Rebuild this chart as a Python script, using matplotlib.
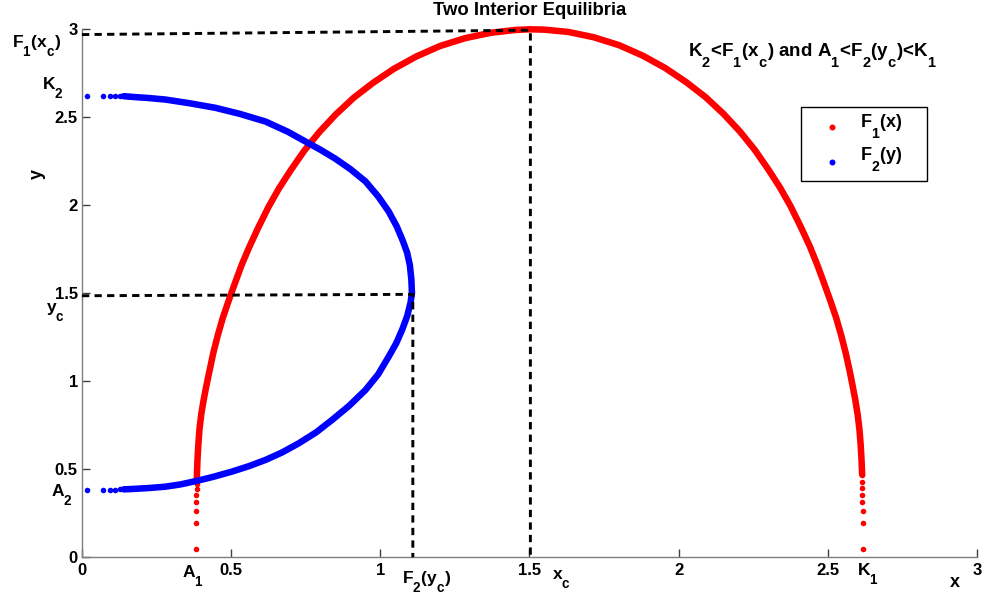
import matplotlib
matplotlib.use("Agg")
import matplotlib.pyplot as plt
from matplotlib.patches import Rectangle

plt.rcParams['font.family'] = ['Liberation Sans', 'DejaVu Sans']
plt.rcParams['font.weight'] = 'bold'
plt.rcParams['mathtext.fontset'] = 'custom'
plt.rcParams['mathtext.rm'] = 'Liberation Sans:bold'
plt.rcParams['mathtext.it'] = 'Liberation Sans:bold'
plt.rcParams['mathtext.bf'] = 'Liberation Sans:bold'
# MATLAB-like subscripts: lower and a little larger
try:
    import matplotlib._mathtext as _mt
    _mt.FontConstantsBase.sub1 = 1.1
    _mt.FontConstantsBase.subdrop = 1.1
    _mt.SHRINK_FACTOR = 0.78
except Exception:
    pass

# ---------------- data ----------------
# F1(x): sparse sample dots near both ends
red_left_dots_x = [0.382, 0.382, 0.383, 0.383, 0.383, 0.384, 0.384]
red_left_dots_y = [0.047, 0.197, 0.264, 0.313, 0.353, 0.387, 0.419]
red_right_dots_x = [2.617, 2.617, 2.617, 2.616, 2.616, 2.616, 2.615, 2.615]
red_right_dots_y = [0.047, 0.197, 0.264, 0.313, 0.353, 0.391, 0.429, 0.467]
# F1(x): dense part of the curve
red_x = [0.385, 0.387, 0.390, 0.394, 0.400, 0.408, 0.417, 0.427, 0.440, 0.455,
         0.472, 0.490, 0.510, 0.535, 0.560, 0.590, 0.625, 0.660, 0.700, 0.745,
         0.795, 0.850, 0.910, 0.975, 1.045, 1.120, 1.200, 1.285, 1.370, 1.450,
         1.500,
         1.550, 1.630, 1.715, 1.800, 1.880, 1.955, 2.025, 2.090, 2.150, 2.205,
         2.255, 2.300, 2.340, 2.375, 2.410, 2.440, 2.465, 2.490, 2.510, 2.528,
         2.545, 2.560, 2.573, 2.583, 2.592, 2.600, 2.606, 2.610, 2.613, 2.615]
red_y = [0.450, 0.550, 0.640, 0.730, 0.815, 0.895, 0.975, 1.055, 1.160, 1.260,
         1.360, 1.450, 1.545, 1.660, 1.760, 1.870, 1.990, 2.095, 2.200, 2.310,
         2.415, 2.515, 2.610, 2.695, 2.775, 2.845, 2.905, 2.950, 2.980, 2.996,
         3.000,
         2.998, 2.985, 2.955, 2.910, 2.850, 2.780, 2.700, 2.615, 2.520, 2.420,
         2.315, 2.205, 2.100, 1.995, 1.875, 1.765, 1.660, 1.545, 1.450, 1.360,
         1.260, 1.160, 1.060, 0.975, 0.895, 0.810, 0.725, 0.640, 0.550, 0.470]

# F2(y): sparse sample dots near both ends
blue_dots_x = [0.016, 0.069, 0.095, 0.112, 0.128]
blue_bottom_dots_y = [0.385, 0.385, 0.385, 0.385, 0.386]
blue_top_dots_y = [2.622, 2.622, 2.622, 2.622, 2.621]
# F2(y): dense part of the curve (bottom branch -> nose -> top branch)
blue_x = [0.140, 0.168, 0.220, 0.279, 0.330, 0.382, 0.440, 0.503, 0.560, 0.615,
          0.670, 0.726, 0.785, 0.838, 0.895, 0.950, 0.993, 1.028, 1.053, 1.073,
          1.090, 1.101, 1.106,
          1.104, 1.099, 1.090, 1.075, 1.055, 1.028, 0.993, 0.950, 0.900, 0.849,
          0.800, 0.760, 0.690, 0.615, 0.530, 0.447, 0.360, 0.279, 0.220, 0.168,
          0.140]
blue_y = [0.386, 0.388, 0.393, 0.401, 0.414, 0.433, 0.457, 0.487, 0.518, 0.553,
          0.595, 0.647, 0.710, 0.780, 0.860, 0.950, 1.040, 1.140, 1.215, 1.292,
          1.370, 1.444, 1.500,
          1.580, 1.660, 1.730, 1.800, 1.880, 1.965, 2.050, 2.136, 2.205, 2.265,
          2.315, 2.352, 2.418, 2.476, 2.519, 2.554, 2.580, 2.601, 2.610, 2.616,
          2.620]

# construction lines (dashed)
xc_line_x = [0.0, 1.503, 1.503]
xc_line_y = [2.970, 2.995, 0.0]
yc_line_x = [0.0, 1.109, 1.109]
yc_line_y = [1.486, 1.494, 0.0]

xticks = [0, 0.5, 1, 1.5, 2, 2.5, 3]
xticklabels = ['0', '0.5', '1', '1.5', '2', '2.5', '3']
yticks = [0, 0.5, 1, 1.5, 2, 2.5, 3]
yticklabels = ['0', '0.5', '1', '1.5', '2', '2.5', '3']

title = 'Two Interior Equilibria'
condition = r'K$_2$<F$_1$(x$_c$) and A$_1$<F$_2$(y$_c$)<K$_1$'
legend_labels = [r'F$_1$(x)', r'F$_2$(y)']

# ---------------- figure ----------------
fig = plt.figure(figsize=(9.84, 5.98), dpi=100)
ax = fig.add_axes([0.0833, 0.0681, 0.9096, 0.8829])

RED = '#ff0000'
BLUE = '#0000ff'
ms = 4.0
lw = 4.7

ax.plot(red_x, red_y, color=RED, lw=lw, solid_capstyle='round',
        solid_joinstyle='round', clip_on=False, zorder=3)
ax.plot(red_left_dots_x, red_left_dots_y, 'o', color=RED, ms=ms, mec='none', clip_on=False, zorder=3)
ax.plot(red_right_dots_x, red_right_dots_y, 'o', color=RED, ms=ms, mec='none', clip_on=False, zorder=3)

ax.plot(blue_x, blue_y, color=BLUE, lw=lw, solid_capstyle='round',
        solid_joinstyle='round', clip_on=False, zorder=4)
ax.plot(blue_dots_x, blue_bottom_dots_y, 'o', color=BLUE, ms=ms, mec='none', clip_on=False, zorder=4)
ax.plot(blue_dots_x, blue_top_dots_y, 'o', color=BLUE, ms=ms, mec='none', clip_on=False, zorder=4)

ax.plot(xc_line_x, xc_line_y, color='black', lw=2.1, ls=(0, (2.5, 1.8)), clip_on=False, zorder=5)
ax.plot(yc_line_x, yc_line_y, color='black', lw=2.1, ls=(0, (2.5, 1.8)), clip_on=False, zorder=5)

ax.set_xlim(0, 3)
ax.set_ylim(0, 3)
ax.set_xticks(xticks)
ax.set_xticklabels(xticklabels)
ax.set_yticks(yticks)
ax.set_yticklabels(yticklabels)
for s in ['top', 'right']:
    ax.spines[s].set_visible(False)
for s in ['left', 'bottom']:
    ax.spines[s].set_color('#7f7f7f')
    ax.spines[s].set_linewidth(1.0)
ax.tick_params(direction='in', length=6, width=1.0, color='#404040',
               labelsize=12, pad=4)
ax.tick_params(axis='y', pad=3)
for lab in ax.get_xticklabels() + ax.get_yticklabels():
    lab.set_fontweight('bold')

ax.set_title(title, fontsize=13.3, fontweight='bold', pad=10)

tk = dict(fontsize=12.5, fontweight='bold', clip_on=False, va='baseline', ha='left')
# y-side labels
ax.text(-0.236, 2.901, r'F$_1$(x$_c$)', **tk)
ax.text(-0.135, 2.659, r'K$_2$', **tk)
ax.text(-0.121, 1.395, r'y$_c$', **tk)
ax.text(-0.105, 0.348, r'A$_2$', **tk)
ax.text(-0.148, 2.18, 'y', ha='center', va='center', rotation=90, fontsize=13, fontweight='bold')
# x-side labels
ax.text(0.334, -0.110, r'A$_1$', **tk)
ax.text(1.072, -0.144, r'F$_2$(y$_c$)', **tk)
ax.text(1.575, -0.123, r'x$_c$', **tk)
ax.text(2.597, -0.100, r'K$_1$', **tk)
ax.text(2.910, -0.167, 'x', ha='left', va='baseline', fontsize=13, fontweight='bold', clip_on=False)

ax.text(2.447, 2.848, condition, ha='center', va='baseline', fontsize=13.5, fontweight='bold')

# legend (drawn in axes coordinates)
ax.add_patch(Rectangle((0.8034, 0.7127), 0.9441 - 0.8034, 0.8528 - 0.7127,
                       transform=ax.transAxes, facecolor='white', edgecolor='black',
                       lw=1.0, zorder=6, clip_on=False))
leg_colors = [RED, BLUE]
leg_marker_y = [0.8155, 0.7492]
leg_text_y = [0.8155, 0.7521]
for c, my, ty, lab in zip(leg_colors, leg_marker_y, leg_text_y, legend_labels):
    ax.plot([0.8377], [my], 'o', color=c, ms=4.3, mec='none', transform=ax.transAxes,
            zorder=7, clip_on=False)
    ax.text(0.8693, ty, lab, transform=ax.transAxes, ha='left', va='baseline',
            fontsize=13, fontweight='bold', zorder=7)

fig.savefig('out.png', dpi=100)
